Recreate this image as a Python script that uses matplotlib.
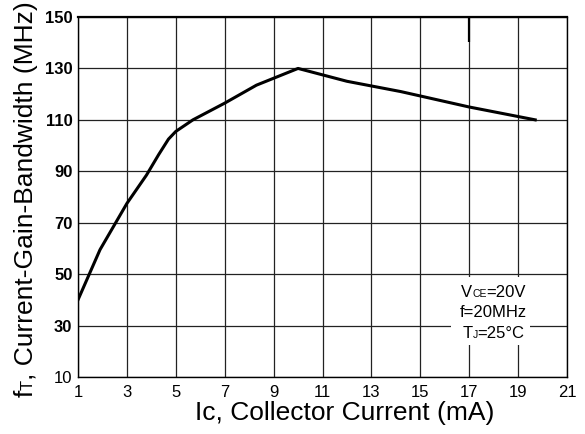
import matplotlib
matplotlib.use("Agg")
import matplotlib.pyplot as plt
from matplotlib.patches import Rectangle
from matplotlib.transforms import IdentityTransform

plt.rcParams['font.family'] = ['Liberation Sans', 'DejaVu Sans']

ic_ma = [1, 1.9, 2.45, 3, 3.8, 4.3, 4.7, 5, 5.7, 7, 8.3, 10, 12, 14.2, 17, 19.7]
ft_mhz = [40, 59.5, 68.5, 77.5, 88.5, 96.5, 102.5, 105.5, 110, 116.5, 123.5, 130, 125, 121, 115, 110]
x_ticks = [1, 3, 5, 7, 9, 11, 13, 15, 17, 19, 21]
y_ticks = [10, 30, 50, 70, 90, 110, 130, 150]
cond_lines = [[("V", 12), ("CE", 7.5), ("=20V", 12)],
              [("f=20MHz", 12)],
              [("T", 12), ("J", 7.5), ("=25°C", 12)]]
xlabel_text = "Ic, Collector Current (mA)"
ylabel_parts = [("f", 19), ("T", 12), (", Current-Gain-Bandwidth (MHz)", 19)]

W, H = 585, 434
fig = plt.figure(figsize=(W / 100, H / 100), dpi=100)
L, R, T, B = 78, 567, 17, 377
ax = fig.add_axes([L / W, 1 - B / H, (R - L) / W, (B - T) / H])
ax.set_xlim(1, 21)
ax.set_ylim(10, 150)
ax.set_xticks(x_ticks)
ax.set_yticks(y_ticks)
ax.grid(True, color='#222222', linewidth=0.9)
ax.set_axisbelow(True)
ax.tick_params(length=0, labelsize=12)
ax.tick_params(axis='x', pad=6)
ax.tick_params(axis='y', pad=4)
for lab, v in zip(ax.get_yticklabels(), y_ticks):
    if v != 10:
        lab.set_fontweight('bold')
for s in ax.spines.values():
    s.set_color('black')
    s.set_linewidth(1.0)
ax.spines['top'].set_linewidth(1.6)

# short darker segment on the 17 grid line near top
ax.vlines(17, 140.3, 150, color='black', linewidth=1.6, zorder=1.5)

# white box behind the conditions text
ax.add_patch(Rectangle((16.25, 22.4), 3.25, 26.3, facecolor='white',
                       edgecolor='none', zorder=1.8))

ax.plot(ic_ma, ft_mhz, color='black', linewidth=2.2, zorder=3)

renderer = fig.canvas.get_renderer()
ident = IdentityTransform()


def measure(s, fs):
    t = fig.text(0, 0, s, fontsize=fs)
    w = t.get_window_extent(renderer).width
    t.remove()
    return w


# conditions text (pixel placement, baseline-aligned small letters)
cx = 493.5
baselines = [297, 317, 338]
for parts, by in zip(cond_lines, baselines):
    widths = [measure(s, fs) for s, fs in parts]
    x = cx - sum(widths) / 2
    for (s, fs), w in zip(parts, widths):
        fig.text(x, H - by, s, fontsize=fs, ha='left', va='baseline',
                 transform=ident, zorder=5)
        x += w

# x label
fig.text(345, H - 420, xlabel_text, fontsize=19, ha='center', va='baseline',
         transform=ident)

# y label (rotated, segments stacked upward)
y = H - 397
for s, fs in ylabel_parts:
    w = measure(s, fs)
    fig.text(33, y, s, fontsize=fs, rotation=90, rotation_mode='anchor',
             ha='left', va='baseline', transform=ident)
    y += w

fig.savefig("out.png", dpi=100)
